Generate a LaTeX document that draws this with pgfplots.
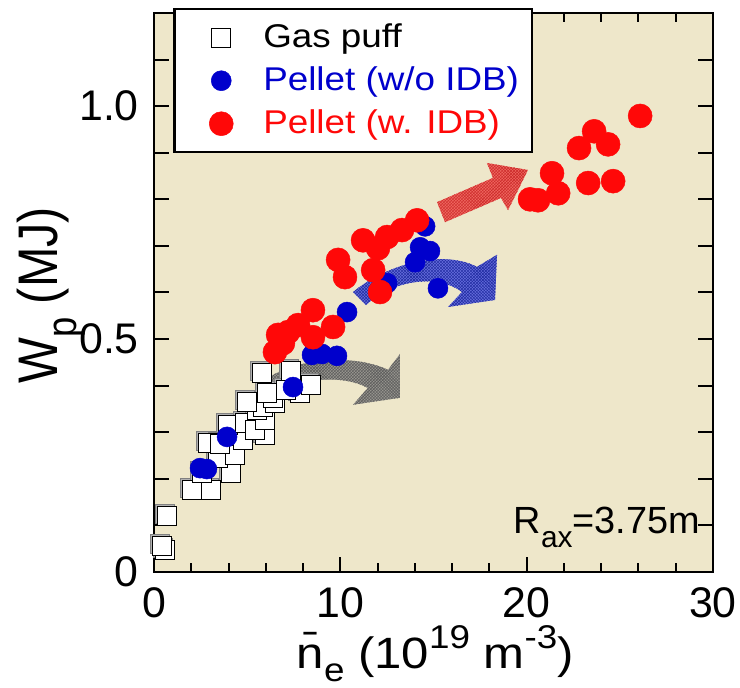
\documentclass[border=0pt]{standalone}
\usepackage{fontspec}
\setmainfont{Liberation Sans}
\newfontfamily\legfont[FakeStretch=1.12]{Liberation Sans}
\newfontfamily\xlabfont[FakeStretch=1.12]{Liberation Sans}
\newfontfamily\ylabfont[FakeStretch=0.87]{Liberation Sans}
\usepackage{pgfplots}
\pgfplotsset{compat=1.18}
\usepackage{pgfplotstable}
\usetikzlibrary{patterns}
\definecolor{bg}{RGB}{238,231,202}
\definecolor{pblue}{RGB}{0,0,204}
\definecolor{pred}{RGB}{255,8,8}
\definecolor{agray}{RGB}{125,125,125}
\definecolor{ablue}{RGB}{40,55,225}
\definecolor{ared}{RGB}{240,50,50}
\pgfplotsset{mylegimg/.style={legend image code/.code={\path (0bp,-12bp) (76bp,12bp); \draw[##1, draw=none] plot coordinates {(35bp,0bp)};}}}

\pgfplotstableread{
x y
0.59 0.047
0.43 0.056
0.70 0.120
2.04 0.176
3.06 0.176
2.58 0.212
4.13 0.212
3.44 0.245
4.35 0.251
2.90 0.277
3.54 0.275
4.78 0.283
3.97 0.315
4.88 0.320
5.96 0.294
5.42 0.305
5.96 0.326
5.53 0.348
5.85 0.354
4.99 0.365
6.50 0.363
6.39 0.373
6.07 0.384
7.84 0.384
7.09 0.391
8.43 0.401
5.80 0.427
7.35 0.431
}\gas

\pgfplotstableread{
x y
2.47 0.223
2.84 0.221
3.92 0.290
7.46 0.397
8.48 0.466
9.02 0.468
9.82 0.464
8.53 0.498
10.36 0.558
12.51 0.620
15.24 0.609
14.01 0.665
14.28 0.697
14.81 0.689
14.55 0.742
}\pblue

\pgfplotstableread{
x y
6.49 0.472
6.66 0.509
6.92 0.491
7.20 0.515
7.73 0.530
8.53 0.504
9.61 0.526
8.53 0.562
12.13 0.601
10.25 0.633
11.76 0.648
9.88 0.670
12.02 0.695
11.22 0.712
12.51 0.719
13.31 0.734
14.12 0.755
20.18 0.800
20.61 0.798
21.69 0.813
21.36 0.856
23.30 0.835
24.64 0.839
22.81 0.910
24.37 0.918
23.62 0.946
26.09 0.979
}\pred

\begin{document}
\begin{tikzpicture}
\useasboundingbox (0,0) rectangle (740bp,688bp);
\begin{axis}[
  at={(154bp,116bp)}, anchor=south west,
  scale only axis, width=559bp, height=559bp,
  xmin=0, xmax=30, ymin=0, ymax=1.2,
  axis background/.style={fill=bg},
  axis line style={line width=2.5bp},
  xtick={0,10,20,30}, minor x tick num=4,
  ytick={0,0.1,0.2,0.3,0.4,0.5,0.6,0.7,0.8,0.9,1.0,1.1,1.2},
  yticklabels={0,,,,,0.5,,,,,1.0,,},
  tick align=inside,
  major tick length=15bp, minor tick length=9bp,
  tick style={black, line width=2bp},
  /pgf/number format/assume math mode=true,
  ticklabel style={font=\fontsize{43}{50}\selectfont},
  xticklabel style={inner sep=0pt, yshift=-15bp},
  yticklabel style={inner sep=0pt, xshift=-15bp},
  xlabel={{\xlabfont\fontsize{44}{50}\selectfont \=n\raisebox{-0.3em}{\fontsize{33}{33}\selectfont e} (10\raisebox{0.45em}{\fontsize{33}{33}\selectfont 19} m\raisebox{0.45em}{\fontsize{33}{33}\selectfont -3})}},
  xlabel style={at={(axis description cs:0.503,-0.172)}, anchor=base, inner sep=0pt},
  ylabel={{\ylabfont\fontsize{56}{60}\selectfont W\raisebox{-0.35em}{\fontsize{42}{44}\selectfont p} (MJ)}},
  ylabel style={at={(axis description cs:-0.1735,0.495)}, anchor=base, inner sep=0pt},
  legend style={at={(axis description cs:0.034,1.009)}, anchor=north west,
    draw=black, line width=2.5bp, fill=white,
    font=\legfont\fontsize{33}{38}\selectfont,
    inner xsep=12bp, inner ysep=10bp, row sep=6bp,
    nodes={inner sep=1bp, text height=27bp, text depth=8bp},
    /tikz/every odd column/.append style={column sep=0bp}},
  legend cell align=left,
  clip=false,
]
% shadow of squares
\addplot[draw=none, mark=square*, mark size=9.5bp, forget plot,
  mark options={fill=gray!60, draw=gray, line width=1bp, xshift=-2bp, yshift=2bp}] table {\gas};
\addplot[draw=none, mark=square*, mark size=9.5bp,
  mark options={fill=white, draw=black, line width=1.3bp}, mylegimg] table {\gas};
\addlegendentry{Gas puff}
\addplot[draw=none, mark=*, mark size=10bp,
  mark options={fill=pblue, draw=pblue, line width=0.5bp}, mylegimg] table {\pblue};
\addlegendentry{\textcolor{pblue}{Pellet (w/o IDB)}}
\addplot[draw=none, mark=*, mark size=12bp,
  mark options={fill=pred, draw=pred, line width=0.5bp}, mylegimg] table {\pred};
\addlegendentry{\textcolor{pred}{Pellet (w. IDB)}}

% arrows
\path[preaction={fill=agray, fill opacity=0.75}, pattern=crosshatch, pattern color=agray!70!black]
  (axis cs:5.42,0.395) .. controls (axis cs:7.03,0.459) and (axis cs:10.52,0.472) .. (axis cs:12.56,0.434)
  -- (axis cs:13.20,0.468) -- (axis cs:13.20,0.374) -- (axis cs:10.68,0.359) -- (axis cs:11.48,0.395)
  .. controls (axis cs:10.25,0.423) and (axis cs:7.57,0.423) .. (axis cs:6.12,0.365) -- cycle;
\path[preaction={fill=ablue, fill opacity=0.7}, pattern=crosshatch, pattern color=ablue!70!black]
  (axis cs:10.68,0.601) .. controls (axis cs:12.67,0.666) and (axis cs:15.62,0.691) .. (axis cs:17.33,0.655)
  -- (axis cs:18.41,0.681) -- (axis cs:18.30,0.584) -- (axis cs:15.78,0.569) -- (axis cs:16.53,0.601)
  .. controls (axis cs:15.35,0.638) and (axis cs:12.93,0.631) .. (axis cs:11.38,0.573) -- cycle;
\path[preaction={fill=ared, fill opacity=0.7}, pattern=crosshatch, pattern color=ared!85!black]
  (axis cs:15.19,0.794) -- (axis cs:18.19,0.846) -- (axis cs:17.87,0.878) -- (axis cs:20.07,0.863)
  -- (axis cs:19.00,0.777) -- (axis cs:18.62,0.803) -- (axis cs:15.62,0.751) -- cycle;

\node[anchor=base east, inner sep=0pt, font=\fontsize{38}{40}\selectfont] at (axis cs:29.31,0.0837)
  {R\raisebox{-14bp}{\fontsize{30}{30}\selectfont ax}=3.75m};
\end{axis}
\end{tikzpicture}
\end{document}
